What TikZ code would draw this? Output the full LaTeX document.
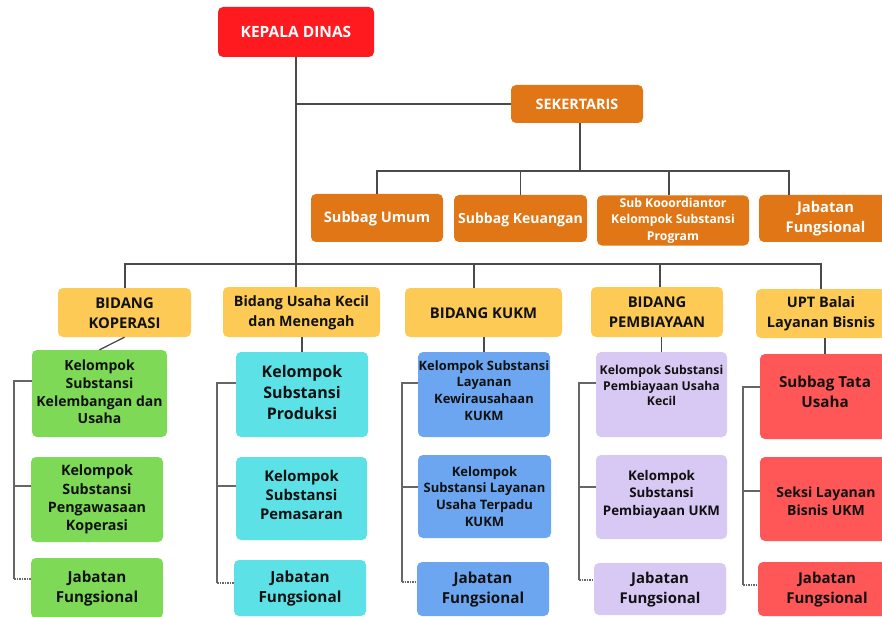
\documentclass[tikz,border=0pt]{standalone}
\usepackage{fontspec}
\setmainfont{Open Sans}
\usetikzlibrary{calc}
\definecolor{cred}{HTML}{FF1A1F}
\definecolor{corange}{HTML}{E07616}
\definecolor{cyellow}{HTML}{FDCA56}
\definecolor{cgreen}{HTML}{7ED957}
\definecolor{ccyan}{HTML}{5CE1E6}
\definecolor{cblue}{HTML}{6CA6F0}
\definecolor{clav}{HTML}{D8C8F4}
\definecolor{clred}{HTML}{FF5757}
\definecolor{linec}{HTML}{4A4A4A}
\definecolor{brc}{HTML}{666666}
\definecolor{txt}{HTML}{111111}
\newcommand{\ml}[2][0pt]{\raisebox{#1}[\height][\depth]{\begin{tabular}{@{}c@{}}#2\end{tabular}}}
\tikzset{
  box/.style={rectangle, rounded corners=5pt, inner sep=0pt, text=txt},
  fz/.style 2 args={font=\fontsize{#1}{#2}\selectfont\bfseries},
  wh/.style 2 args={minimum width=#1pt, minimum height=#2pt},
  ln/.style={draw=linec, line width=1.3pt},
  br/.style={draw=brc, line width=1.1pt},
  brd/.style={draw=brc, line width=1.1pt, dash pattern=on 1.5pt off 1pt},
}
\begin{document}
\begin{tikzpicture}[x=1pt,y=-1pt]
\useasboundingbox (0,0) rectangle (882,617);
% top
\node[box, fill=cred, text=white, wh={156}{50}, fz={15.5}{19}] (kd) at (296,32) {\ml[-1.5pt]{KEPALA DINAS}};
\node[box, fill=corange, text=white, wh={132}{38}, fz={14.4}{18}] (sek) at (577,104) {\ml[-1.5pt]{SEKERTARIS}};
% orange row
\node[box, fill=corange, text=white, wh={132}{48}, fz={14.6}{18}] (su) at (377,218) {\ml[-1pt]{Subbag Umum}};
\node[box, fill=corange, text=white, wh={133}{47}, fz={14}{18}] (sk) at (520.5,218.5) {\ml[-1pt]{Subbag Keuangan}};
\node[box, fill=corange, text=white, wh={152}{47}, fz={12.2}{16.7}] (skp) at (673,220.5) {\ml{Sub Kooordiantor\\Kelompok Substansi\\Program}};
\node[box, fill=corange, text=white, wh={133}{47}, fz={14.7}{20}] (jfo) at (825.5,218.5) {\ml{Jabatan\\Fungsional}};
% bidang row
\node[box, fill=cyellow, wh={133}{49}, fz={14.8}{20}] (bk) at (124.5,312.5) {\ml[-1.5pt]{BIDANG\\KOPERASI}};
\node[box, fill=cyellow, wh={157}{50}, fz={14.3}{20}] (bu) at (301.5,312) {\ml{Bidang Usaha Kecil\\dan Menengah}};
\node[box, fill=cyellow, wh={157}{49}, fz={14.8}{20}] (bkukm) at (483.5,312.5) {\ml[-1.5pt]{BIDANG KUKM}};
\node[box, fill=cyellow, wh={132}{50}, fz={14.8}{20}] (bp) at (657,312) {\ml[-1.5pt]{BIDANG\\PEMBIAYAAN}};
\node[box, fill=cyellow, wh={130}{49}, fz={14.5}{20}] (upt) at (821,313.5) {\ml{UPT Balai\\Layanan Bisnis}};
% green column
\node[box, fill=cgreen, wh={135}{87}, fz={14}{17.9}] (g1) at (99.5,393.5) {\ml{Kelompok\\Substansi\\Kelembangan dan\\Usaha}};
\node[box, fill=cgreen, wh={132}{85}, fz={14.3}{18.3}] (g2) at (97,499.5) {\ml{Kelompok\\Substansi\\Pengawasaan\\Koperasi}};
\node[box, fill=cgreen, wh={132}{60}, fz={15.2}{20}] (g3) at (97,588) {\ml{Jabatan\\Fungsional}};
% cyan column
\node[box, fill=ccyan, wh={132}{85}, fz={16}{21}] (c1) at (302,394.5) {\ml{Kelompok\\Substansi\\Produksi}};
\node[box, fill=ccyan, wh={131}{83}, fz={14.8}{19}] (c2) at (301.5,498.5) {\ml[1.5pt]{Kelompok\\Substansi\\Pemasaran}};
\node[box, fill=ccyan, wh={132}{56}, fz={15.3}{20}] (c3) at (300,588) {\ml{Jabatan\\Fungsional}};
% blue column
\node[box, fill=cblue, wh={132}{85}, fz={12.9}{16.7}] (b1) at (484,394.5) {\ml[2.5pt]{Kelompok Substansi\\Layanan\\Kewirausahaan\\KUKM}};
\node[box, fill=cblue, wh={133}{83}, fz={13}{16.7}] (b2) at (484.5,496.5) {\ml[-1.5pt]{Kelompok\\Substansi Layanan\\Usaha Terpadu\\KUKM}};
\node[box, fill=cblue, wh={132}{54}, fz={15.2}{20}] (b3) at (483,589) {\ml{Jabatan\\Fungsional}};
% lavender column
\node[box, fill=clav, wh={131}{85}, fz={12.2}{15.5}] (p1) at (661.5,394.5) {\ml[7.5pt]{Kelompok Substansi\\Pembiayaan Usaha\\Kecil}};
\node[box, fill=clav, wh={131}{84}, fz={13.3}{17.8}] (p2) at (661.5,497) {\ml[2.7pt]{Kelompok\\Substansi\\Pembiayaan UKM}};
\node[box, fill=clav, wh={132}{52}, fz={14.9}{20}] (p3) at (660,589) {\ml{Jabatan\\Fungsional}};
% red column
\node[box, fill=clred, wh={130}{85}, fz={15.2}{20}] (r1) at (825,396.5) {\ml[3pt]{Subbag Tata\\Usaha}};
\node[box, fill=clred, wh={132}{84}, fz={14}{18.3}] (r2) at (826,499) {\ml[-3.5pt]{Seksi Layanan\\Bisnis UKM}};
\node[box, fill=clred, wh={138}{54}, fz={15}{20}] (r3) at (827,589) {\ml{Jabatan\\Fungsional}};
% connectors top
\draw[ln] (kd.south) -- (kd.south |- bu.north);
\draw[ln] (kd.south |- sek.west) -- (sek.west);
\coordinate (sbus) at (580,171);
\coordinate (sl) at (377,171);
\coordinate (sr) at (789,171);
\coordinate (skx) at (669,171);
\draw[ln] (sbus |- sek.south) -- (sbus);
\draw[ln] (sl |- su.north) -- (sl) -- (sr) -- (sr |- jfo.north);
\draw[ln] (sk.north |- sbus) -- (sk.north);
\draw[ln] (skx) -- (skx |- skp.north);
% bidang bus
\coordinate (bl) at (125,264);
\coordinate (brr) at (821,264);
\coordinate (bkx) at (474,264);
\coordinate (bpx) at (660,264);
\draw[ln] (bl |- bk.north) -- (bl) -- (brr) -- (brr |- upt.north);
\draw[ln] (bkx) -- (bkx |- bkukm.north);
\draw[ln] (bpx) -- (bpx |- bp.north);
% bidang to first children
\draw[ln] (bk.south) -- (g1.north);
\draw[ln] (c1.north) -- (c1.north |- bu.south);
\draw[ln] (b1.north) -- (b1.north |- bkukm.south);
\draw[ln] (p1.north) -- (p1.north |- bp.south);
\draw[ln] (r1.north) -- (r1.north |- upt.south);
% brackets
\coordinate (ga) at (14,381); \coordinate (gb) at (14,486); \coordinate (gc) at (14,579);
\draw[br] (g1.west |- ga) -- (ga) -- (gc);
\draw[br] (gb) -- (g2.west |- gb);
\draw[brd] (gc) -- (g3.west |- gc);
\coordinate (ca) at (217,383); \coordinate (cb) at (217,486); \coordinate (cc) at (217,583);
\draw[br] (c1.west |- ca) -- (ca) -- (cc);
\draw[br] (cb) -- (c2.west |- cb);
\draw[brd] (cc) -- (c3.west |- cc);
\coordinate (ba) at (402,383); \coordinate (bb) at (402,487); \coordinate (bc) at (402,582);
\draw[br] (b1.west |- ba) -- (ba) -- (bc);
\draw[br] (bb) -- (b2.west |- bb);
\draw[brd] (bc) -- (b3.west |- bc);
\coordinate (pa) at (579,383); \coordinate (pb) at (579,487); \coordinate (pc) at (579,580);
\draw[br] (p1.west |- pa) -- (pa) -- (pc);
\draw[br] (pb) -- (p2.west |- pb);
\draw[brd] (pc) -- (p3.west |- pc);
\coordinate (ra) at (743,387); \coordinate (rb) at (743,491); \coordinate (rc) at (743,585);
\draw[br] (r1.west |- ra) -- (ra) -- (rc);
\draw[br] (rb) -- (r2.west |- rb);
\draw[brd] (rc) -- (r3.west |- rc);
\end{tikzpicture}
\end{document}
